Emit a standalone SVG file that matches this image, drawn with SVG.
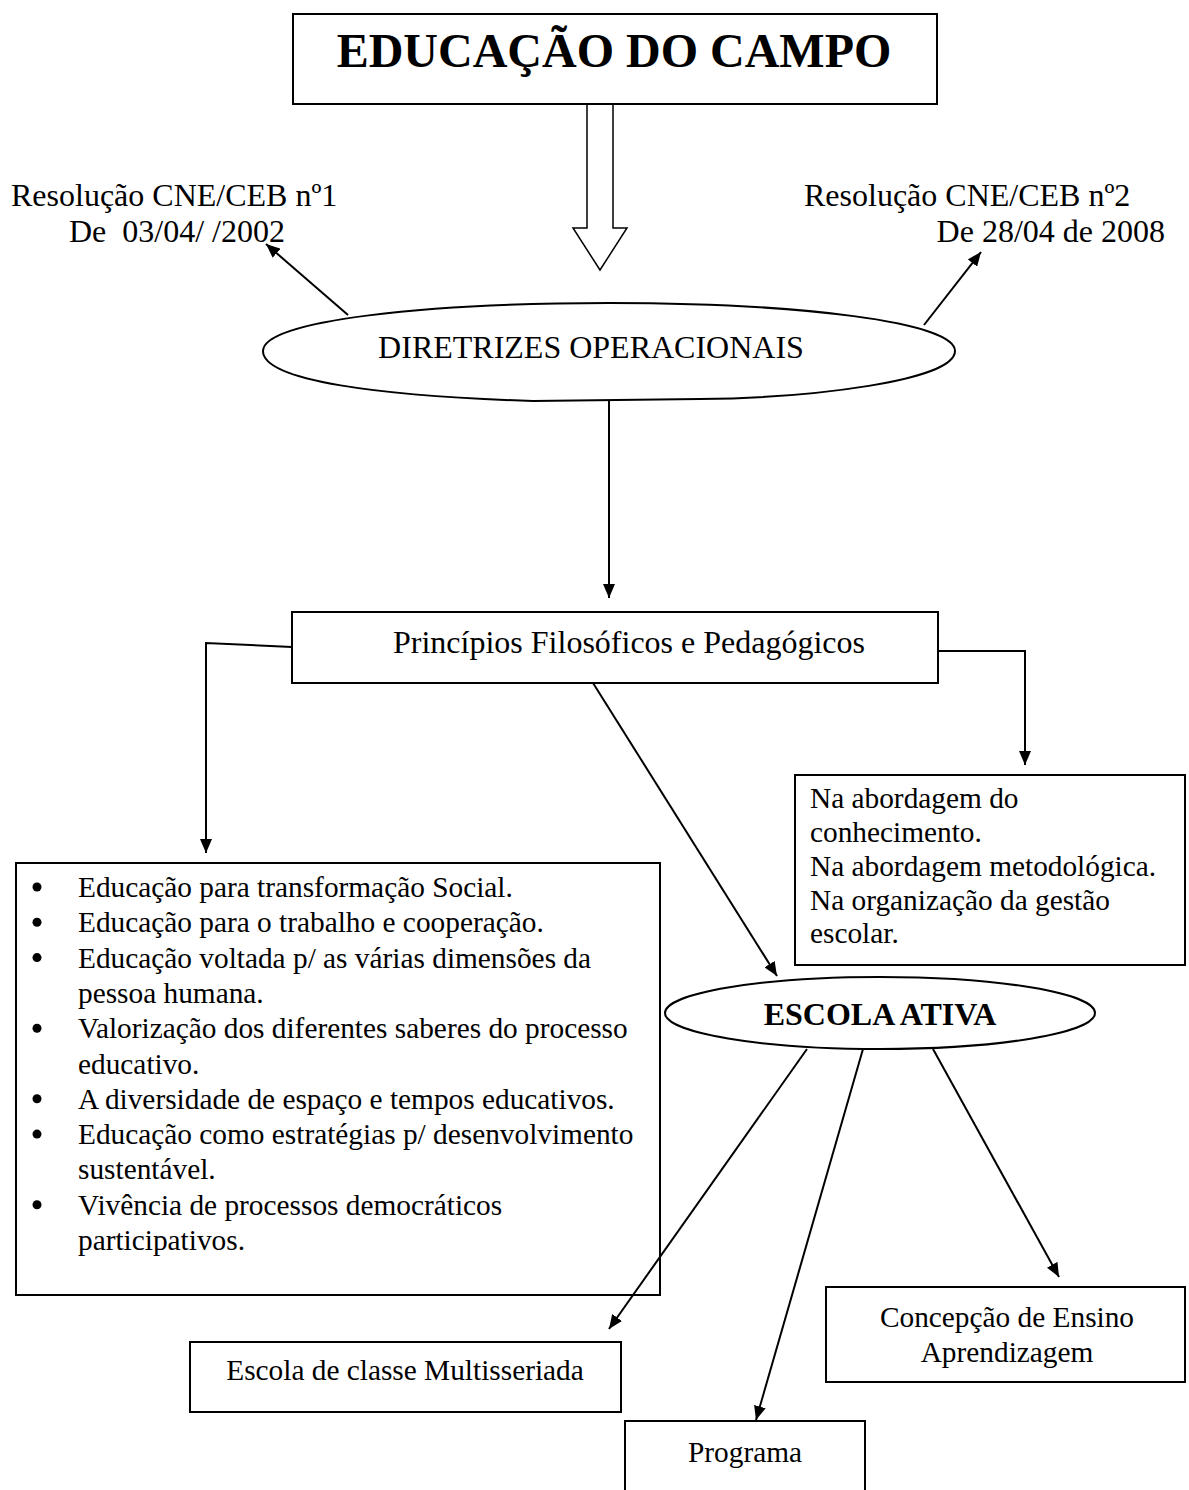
<svg xmlns="http://www.w3.org/2000/svg" width="1189" height="1490" viewBox="0 0 1189 1490">
<style>
text{font-family:"Liberation Serif","Times New Roman",serif;fill:#000;font-size:32px}
.b{font-weight:bold}
.s{font-size:29.33px}
.box{fill:none;stroke:#000;stroke-width:2}
.ln{fill:none;stroke:#000;stroke-width:2}
</style>
<defs>
<marker id="ah" viewBox="0 0 14 12" refX="14" refY="6" markerWidth="14" markerHeight="12" markerUnits="userSpaceOnUse" orient="auto">
<path d="M0,0 L14,6 L0,12 Z" fill="#000"/>
</marker>
</defs>
<rect width="1189" height="1490" fill="#fff"/>
<g id="titulo">
<rect class="box" x="293" y="14" width="644" height="90"/>
<text class="b" x="614" y="67" text-anchor="middle" style="font-size:48px">EDUCAÇÃO DO CAMPO</text>
</g>
<g id="res1">
<text x="11" y="206">Resolução CNE/CEB nº1</text>
<text x="69" y="242" xml:space="preserve">De  03/04/ /2002</text>
</g>
<g id="res2">
<text x="804" y="206">Resolução CNE/CEB nº2</text>
<text x="1165" y="242" text-anchor="end">De 28/04 de 2008</text>
</g>
<g id="diretrizes">
<path class="box" d="M263,351 C263,320 430,303 609,303 C800,303 955,322 955,351 C955,381 810,398 700,399 L533,401 C380,396 263,381 263,351 Z"/>
<text x="591" y="358" text-anchor="middle">DIRETRIZES OPERACIONAIS</text>
</g>
<g id="principios">
<rect class="box" x="292" y="612" width="646" height="71"/>
<text x="629" y="653" text-anchor="middle">Princípios Filosóficos e Pedagógicos</text>
</g>
<g id="abordagem">
<rect class="box" x="795" y="775" width="390" height="190"/>
<text class="s" x="810" y="808">Na abordagem do</text>
<text class="s" x="810" y="842">conhecimento.</text>
<text class="s" x="810" y="876">Na abordagem metodológica.</text>
<text class="s" x="810" y="910">Na organização da gestão</text>
<text class="s" x="810" y="943">escolar.</text>
</g>
<g id="lista">
<rect class="box" x="16" y="863" width="644" height="432"/>
<g>
<circle cx="37" cy="887" r="4.5"/>
<circle cx="37" cy="922.3" r="4.5"/>
<circle cx="37" cy="957.6" r="4.5"/>
<circle cx="37" cy="1028.2" r="4.5"/>
<circle cx="37" cy="1098.8" r="4.5"/>
<circle cx="37" cy="1134.1" r="4.5"/>
<circle cx="37" cy="1204.7" r="4.5"/>
</g>
<text class="s" x="78" y="897">Educação para transformação Social.</text>
<text class="s" x="78" y="932.3">Educação para o trabalho e cooperação.</text>
<text class="s" x="78" y="967.6">Educação voltada p/ as várias dimensões da</text>
<text class="s" x="78" y="1002.9">pessoa humana.</text>
<text class="s" x="78" y="1038.2">Valorização dos diferentes saberes do processo</text>
<text class="s" x="78" y="1073.5">educativo.</text>
<text class="s" x="78" y="1108.8">A diversidade de espaço e tempos educativos.</text>
<text class="s" x="78" y="1144.1">Educação como estratégias p/ desenvolvimento</text>
<text class="s" x="78" y="1179.4">sustentável.</text>
<text class="s" x="78" y="1214.7">Vivência de processos democráticos</text>
<text class="s" x="78" y="1250">participativos.</text>
</g>
<g id="escola-ativa">
<ellipse class="box" cx="880" cy="1013" rx="215" ry="36"/>
<text class="b" x="880" y="1025" text-anchor="middle">ESCOLA ATIVA</text>
</g>
<g id="multisseriada">
<rect class="box" x="190" y="1342" width="431" height="70"/>
<text class="s" x="405" y="1380" text-anchor="middle">Escola de classe Multisseriada</text>
</g>
<g id="programa">
<path class="box" d="M625,1492 V1421 H865 V1492"/>
<text class="s" x="745" y="1462" text-anchor="middle">Programa</text>
</g>
<g id="concepcao">
<rect class="box" x="826" y="1287" width="359" height="95"/>
<text class="s" x="1007" y="1327" text-anchor="middle">Concepção de Ensino</text>
<text class="s" x="1007" y="1362" text-anchor="middle">Aprendizagem</text>
</g>
<g id="connectors">
<path class="ln" d="M587,104 V228 H573 L600,270 L627,228 H613 V104" style="stroke-width:1.5"/>
<line class="ln" x1="348" y1="315" x2="266" y2="244" marker-end="url(#ah)"/>
<line class="ln" x1="924" y1="325" x2="981" y2="252" marker-end="url(#ah)"/>
<line class="ln" x1="609" y1="400" x2="609" y2="598" marker-end="url(#ah)"/>
<polyline class="ln" points="292,647 206,643 206,853" marker-end="url(#ah)"/>
<polyline class="ln" points="938,651 1025,651 1025,765" marker-end="url(#ah)"/>
<line class="ln" x1="593" y1="683" x2="777" y2="976" marker-end="url(#ah)"/>
<line class="ln" x1="807" y1="1049" x2="609" y2="1329" marker-end="url(#ah)"/>
<line class="ln" x1="863" y1="1049" x2="756" y2="1420" marker-end="url(#ah)"/>
<line class="ln" x1="933" y1="1049" x2="1059" y2="1277" marker-end="url(#ah)"/>
</g>
</svg>
